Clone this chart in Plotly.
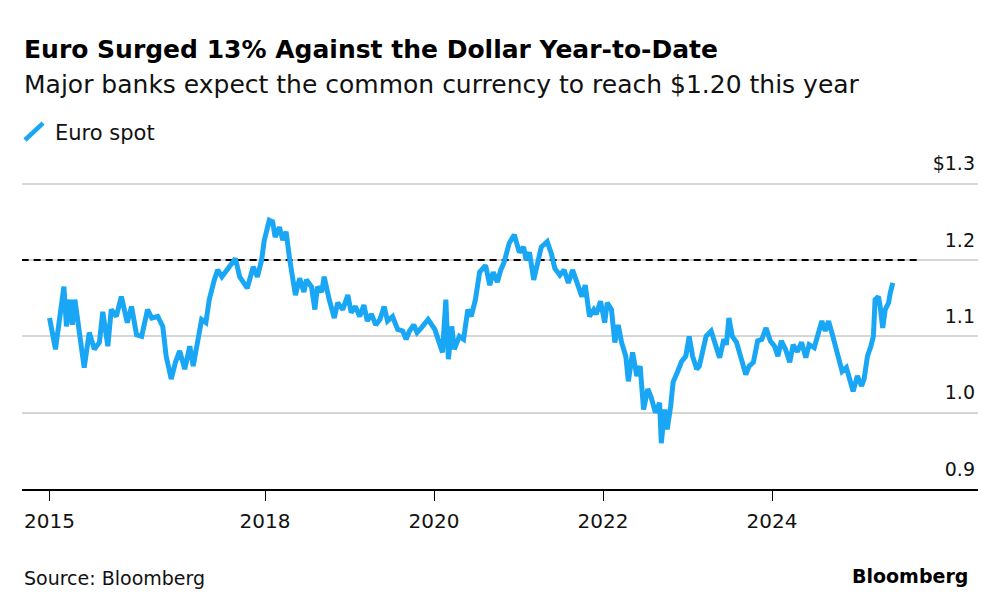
import plotly.graph_objects as go

# Euro spot (EUR/USD); x is in decimal years
years = [
    2015.45, 2015.52, 2015.62, 2015.65, 2015.69, 2015.72, 2015.75, 2015.80, 2015.86, 2015.92,
    2015.98, 2016.04, 2016.08, 2016.14, 2016.18, 2016.24, 2016.30, 2016.37, 2016.42, 2016.48,
    2016.54, 2016.61, 2016.66, 2016.73, 2016.79, 2016.83, 2016.89, 2016.94, 2016.99, 2017.05,
    2017.11, 2017.15, 2017.20, 2017.25, 2017.30, 2017.34, 2017.40, 2017.44, 2017.49, 2017.57,
    2017.65, 2017.70, 2017.79, 2017.86, 2017.91, 2017.96, 2017.99, 2018.05, 2018.09, 2018.12,
    2018.17, 2018.21, 2018.25, 2018.29, 2018.33, 2018.36, 2018.41, 2018.46, 2018.49, 2018.55,
    2018.59, 2018.62, 2018.67, 2018.70, 2018.76, 2018.82, 2018.86, 2018.92, 2018.98, 2019.02,
    2019.07, 2019.12, 2019.17, 2019.21, 2019.26, 2019.31, 2019.36, 2019.41, 2019.45, 2019.51,
    2019.57, 2019.63, 2019.67, 2019.71, 2019.76, 2019.80, 2019.85, 2019.93, 2020.01, 2020.07,
    2020.10, 2020.14, 2020.17, 2020.21, 2020.24, 2020.30, 2020.35, 2020.40, 2020.44, 2020.49,
    2020.54, 2020.61, 2020.66, 2020.70, 2020.75, 2020.79, 2020.83, 2020.89, 2020.95, 2021.01,
    2021.06, 2021.09, 2021.13, 2021.18, 2021.22, 2021.27, 2021.34, 2021.39, 2021.43, 2021.49,
    2021.54, 2021.59, 2021.64, 2021.70, 2021.75, 2021.79, 2021.84, 2021.89, 2021.92, 2021.97,
    2022.02, 2022.05, 2022.10, 2022.14, 2022.18, 2022.22, 2022.27, 2022.30, 2022.35, 2022.40,
    2022.44, 2022.48, 2022.53, 2022.57, 2022.62, 2022.67, 2022.69, 2022.73, 2022.76, 2022.80,
    2022.83, 2022.88, 2022.93, 2022.98, 2023.02, 2023.06, 2023.11, 2023.14, 2023.18, 2023.22,
    2023.28, 2023.33, 2023.38, 2023.43, 2023.46, 2023.49, 2023.53, 2023.58, 2023.64, 2023.69,
    2023.73, 2023.78, 2023.83, 2023.88, 2023.93, 2023.98, 2024.03, 2024.07, 2024.11, 2024.16,
    2024.21, 2024.25, 2024.30, 2024.35, 2024.40, 2024.44, 2024.50, 2024.55, 2024.59, 2024.63,
    2024.67, 2024.72, 2024.76, 2024.80, 2024.83, 2024.88, 2024.92, 2024.96, 2025.01, 2025.06,
    2025.09, 2025.13, 2025.17, 2025.20, 2025.22, 2025.26, 2025.28, 2025.31, 2025.34, 2025.38,
    2025.40, 2025.43,
]
euro_spot = [
    1.124, 1.083, 1.165, 1.113, 1.148, 1.115, 1.148, 1.105, 1.059, 1.105,
    1.083, 1.092, 1.132, 1.087, 1.135, 1.126, 1.152, 1.118, 1.139, 1.102,
    1.100, 1.135, 1.124, 1.126, 1.113, 1.074, 1.044, 1.066, 1.081, 1.057,
    1.087, 1.061, 1.096, 1.122, 1.118, 1.148, 1.174, 1.187, 1.178, 1.190,
    1.202, 1.178, 1.163, 1.191, 1.178, 1.200, 1.225, 1.252, 1.250, 1.230,
    1.243, 1.226, 1.237, 1.202, 1.178, 1.154, 1.176, 1.158, 1.174, 1.165,
    1.135, 1.165, 1.158, 1.178, 1.148, 1.124, 1.144, 1.135, 1.154, 1.131,
    1.139, 1.126, 1.141, 1.120, 1.129, 1.115, 1.122, 1.139, 1.120, 1.126,
    1.109, 1.107, 1.096, 1.107, 1.115, 1.105, 1.111, 1.122, 1.109, 1.087,
    1.079, 1.148, 1.070, 1.113, 1.083, 1.100, 1.096, 1.135, 1.126, 1.148,
    1.184, 1.193, 1.167, 1.184, 1.171, 1.187, 1.197, 1.222, 1.233, 1.210,
    1.217, 1.200, 1.210, 1.174, 1.196, 1.217, 1.224, 1.208, 1.189, 1.180,
    1.187, 1.170, 1.187, 1.165, 1.152, 1.167, 1.126, 1.135, 1.129, 1.146,
    1.118, 1.144, 1.135, 1.092, 1.115, 1.092, 1.074, 1.041, 1.079, 1.048,
    1.061, 1.004, 1.031, 1.020, 1.000, 1.013, 0.960, 1.004, 0.978, 1.008,
    1.040, 1.053, 1.067, 1.074, 1.100, 1.074, 1.057, 1.061, 1.083, 1.100,
    1.107, 1.087, 1.072, 1.096, 1.089, 1.124, 1.100, 1.092, 1.070, 1.050,
    1.061, 1.066, 1.094, 1.096, 1.111, 1.094, 1.087, 1.074, 1.094, 1.083,
    1.066, 1.089, 1.080, 1.092, 1.072, 1.089, 1.085, 1.105, 1.120, 1.107,
    1.120, 1.100, 1.085, 1.066, 1.054, 1.059, 1.040, 1.028, 1.048, 1.035,
    1.044, 1.074, 1.087, 1.100, 1.148, 1.152, 1.139, 1.111, 1.135, 1.144,
    1.157, 1.170,
]

# the $1.20 level the banks expect
target_years = [2015.12, 2025.77]
target_level = [1.20, 1.20]

year_ticks = [2015.45, 2018, 2020, 2022, 2024]
year_labels = ["2015", "2018", "2020", "2022", "2024"]
price_ticks = [0.9, 1.0, 1.1, 1.2, 1.3]
price_labels = ["0.9", "1.0", "1.1", "1.2", "$1.3"]

BLUE = "#19a7f5"
FONT = "DejaVu Sans"

fig = go.Figure()
fig.add_trace(go.Scatter(x=target_years, y=target_level, mode="lines",
                         line=dict(color="#000000", width=2.2, dash="7px,5px"),
                         hoverinfo="skip", showlegend=False))
fig.add_trace(go.Scatter(x=years, y=euro_spot, mode="lines", name="Euro spot",
                         line=dict(color=BLUE, width=5), showlegend=False))

fig.update_layout(
    width=1000, height=610,
    margin=dict(l=22, r=22, t=176, b=121),
    paper_bgcolor="white", plot_bgcolor="white",
    font=dict(family=FONT, color="#111111"),
    xaxis=dict(
        range=[2015.124, 2026.438], automargin=False,
        tickvals=year_ticks, ticktext=year_labels,
        showgrid=False, zeroline=False,
        showline=True, linecolor="#000000", linewidth=1.5,
        ticks="outside", ticklen=10, tickcolor="#000000", tickwidth=1,
        tickfont=dict(size=20, color="#111111"),
        ticklabelstandoff=3,
    ),
    yaxis=dict(
        range=[0.9, 1.31], side="right", automargin=False,
        tickvals=price_ticks, ticktext=price_labels,
        ticklabelposition="inside", ticklabelshift=-20,
        ticklabeloverflow="allow",
        showgrid=True, gridcolor="#d6d6d6", gridwidth=1.5,
        zeroline=False, showline=False, ticks="",
        tickfont=dict(size=19, color="#111111"),
    ),
    hovermode=False,
)

# legend swatch drawn the Bloomberg way (slanted stroke)
fig.add_shape(type="line", xref="paper", yref="paper",
              x0=0.0031, y0=1.115, x1=0.022, y1=1.169,
              line=dict(color=BLUE, width=4.5))

notes = [
    dict(text="<b>Euro Surged 13% Against the Dollar Year-to-Date</b>", x=0, y=1.405,
         xanchor="left", font=dict(size=25, color="#000000")),
    dict(text="Major banks expect the common currency to reach $1.20 this year", x=0, y=1.293,
         xanchor="left", font=dict(size=25, color="#111111")),
    dict(text="Euro spot", x=0.0324, y=1.136, xanchor="left",
         font=dict(size=21, color="#111111")),
    dict(text="Source: Bloomberg", x=0, y=-0.2843, xanchor="left",
         font=dict(size=19, color="#111111")),
    dict(text="<b>Bloomberg</b>", x=0.9916, y=-0.278, xanchor="right",
         font=dict(size=19, color="#000000")),
]
for n in notes:
    fig.add_annotation(xref="paper", yref="paper", yanchor="middle",
                       showarrow=False, **n)

# the page's default 8px body margin would push the chart off its spot
fig.write_html("out.html", config={"displayModeBar": False},
               post_script="document.body.style.margin = '0';")
